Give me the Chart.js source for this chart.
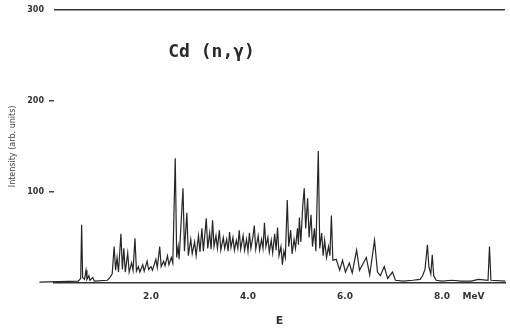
<!DOCTYPE html>
<html>
<head>
<meta charset="utf-8">
<script src="https://cdn.jsdelivr.net/npm/chart.js@4/dist/chart.umd.min.js"></script>
<style>
html,body{margin:0;padding:0;background:#fff;}
#wrap{width:510px;height:334px;}
</style>
</head>
<body>
<div id="wrap"><canvas id="c" width="510" height="334"></canvas></div>
<script>
// Gamma energy (MeV)
const energies = [
 -0.30, 0.50, 0.55, 0.57, 0.59, 0.63, 0.66, 0.68, 0.72, 0.74, 0.80, 0.83, 1.10, 1.15, 1.20,
 1.24, 1.27, 1.30, 1.33, 1.38, 1.41, 1.44, 1.47, 1.52, 1.55, 1.60, 1.63, 1.67, 1.70, 1.74, 1.77,
 1.83, 1.86, 1.92, 1.95, 2.00, 2.03, 2.10, 2.13, 2.18, 2.21, 2.26, 2.29, 2.34, 2.37, 2.42, 2.45,
 2.50, 2.53, 2.56, 2.58, 2.66, 2.69, 2.74, 2.77, 2.82, 2.85, 2.90, 2.93,
 2.98, 3.01, 3.05, 3.08, 3.14, 3.17, 3.21, 3.24, 3.27, 3.30, 3.34, 3.37, 3.41, 3.44, 3.49, 3.52,
 3.56, 3.59, 3.62, 3.65, 3.69, 3.72, 3.76, 3.79, 3.82, 3.85, 3.90, 3.93, 3.97, 4.00, 4.03, 4.06,
 4.10, 4.13, 4.16, 4.21, 4.24, 4.28, 4.31, 4.34, 4.37, 4.41, 4.44, 4.48, 4.51, 4.55, 4.58, 4.61,
 4.64, 4.68, 4.71, 4.74, 4.77, 4.81, 4.84, 4.88, 4.91, 4.95, 4.98, 5.02, 5.04, 5.06, 5.09, 5.13,
 5.16, 5.19, 5.23, 5.26, 5.30, 5.33, 5.37, 5.40, 5.45, 5.48, 5.52, 5.55, 5.58, 5.62, 5.66, 5.69,
 5.72, 5.75, 5.82, 5.89, 5.95, 6.01, 6.09, 6.15, 6.24, 6.30, 6.38, 6.44, 6.51, 6.61, 6.67, 6.73,
 6.81, 6.88, 6.98, 7.04, 7.20, 7.40, 7.55, 7.60, 7.65, 7.70, 7.73, 7.77, 7.80, 7.83, 7.88, 8.00,
 8.20, 8.40, 8.60, 8.75, 8.95, 8.98, 9.01, 9.31
];
// Intensity
const intensities = [
 1, 2, 5, 64, 6, 4, 14, 4, 8, 3, 6, 2, 3, 6, 10,
 40, 14, 28, 12, 54, 15, 38, 12, 33, 12, 22, 14, 49, 13, 18, 12,
 20, 13, 24, 15, 18, 14, 26, 17, 40, 18, 24, 19, 30, 20, 28, 22,
 137, 28, 40, 26, 104, 35, 77, 30, 48, 32, 45, 30,
 52, 34, 60, 35, 71, 38, 55, 37, 69, 40, 52, 38, 58, 36, 50, 38,
 48, 35, 56, 39, 50, 36, 47, 38, 58, 37, 52, 36, 48, 35, 55, 38,
 50, 63, 37, 52, 36, 48, 38, 66, 40, 50, 34, 47, 33, 54, 36, 61,
 30, 40, 20, 35, 28, 91, 40, 58, 32, 48, 38, 60, 42, 72, 45, 85,
 104, 60, 93, 50, 75, 40, 60, 35, 145, 38, 55, 30, 47, 28, 40, 30,
 74, 25, 26, 14, 25, 12, 22, 11, 36, 14, 22, 28, 9, 47, 12, 8,
 18, 5, 12, 3, 2, 3, 4, 8, 15, 42, 18, 10, 31, 8, 3, 2,
 3, 2, 2, 4, 3, 40, 3, 2
];
const xTicks = [2, 4, 6, 8, 8.65];
const xTickLabels = ['2.0', '4.0', '6.0', '8.0', 'MeV'];
const yTicks = [100, 200, 300];
const chartLabel = 'Cd (n,γ)';

const points = energies.map((e, i) => ({x: e, y: intensities[i]}));

const labelPlugin = {
  id: 'label',
  afterDraw(chart) {
    const {ctx, scales} = chart;
    const px = scales.x.getPixelForValue(3.25);
    const py = scales.y.getPixelForValue(253);
    ctx.save();
    ctx.font = 'bold 18px "DejaVu Sans Mono"';
    ctx.fillStyle = '#2a2a2a';
    ctx.textAlign = 'center';
    ctx.textBaseline = 'middle';
    ctx.fillText(chartLabel, px, py);
    ctx.restore();
  }
};

new Chart(document.getElementById('c'), {
  type: 'line',
  data: {
    datasets: [{
      data: points,
      borderColor: '#262626',
      borderWidth: 1.2,
      pointRadius: 0,
      tension: 0,
      fill: false,
      clip: false
    }]
  },
  options: {
    responsive: false,
    animation: false,
    layout: {padding: {top: 9, right: 5, left: 0, bottom: 0}},
    plugins: {legend: {display: false}, tooltip: {enabled: false}},
    scales: {
      x: {
        type: 'linear',
        min: 0,
        max: 9.3,
        afterFit(s) { s.height = 51; },
        afterBuildTicks(s) { s.ticks = xTicks.map(v => ({value: v})); },
        grid: {display: false},
        border: {display: true, color: '#333', width: 1.5},
        ticks: {
          color: '#333',
          font: {family: 'DejaVu Sans', size: 9, weight: 'bold'},
          padding: 0,
          maxRotation: 0,
          autoSkip: false,
          callback: (v) => { const i = xTicks.indexOf(v); return i >= 0 ? xTickLabels[i] : ''; }
        },
        title: {
          display: true,
          text: 'E',
          color: '#333',
          font: {family: 'DejaVu Sans', size: 11, weight: 'bold'},
          padding: {top: 0, bottom: 6}
        }
      },
      y: {
        min: 0,
        max: 300,
        afterFit(s) { s.width = 54; },
        afterBuildTicks(s) { s.ticks = yTicks.map(v => ({value: v})); },
        grid: {
          drawOnChartArea: true,
          color: (c) => c.tick && c.tick.value === 300 ? '#333' : 'rgba(0,0,0,0)',
          tickColor: (c) => c.tick && c.tick.value === 300 ? 'rgba(0,0,0,0)' : '#444',
          tickLength: 5,
          lineWidth: 1.5
        },
        border: {display: false},
        ticks: {
          color: '#333',
          font: {family: 'DejaVu Sans', size: 8, weight: 'bold'},
          padding: 5,
          autoSkip: false
        },
        title: {
          display: true,
          text: 'Intensity (arb. units)',
          color: '#444',
          font: {family: 'DejaVu Sans', size: 8},
          padding: {top: 8, bottom: 0}
        }
      }
    }
  },
  plugins: [labelPlugin]
});
</script>
</body>
</html>
